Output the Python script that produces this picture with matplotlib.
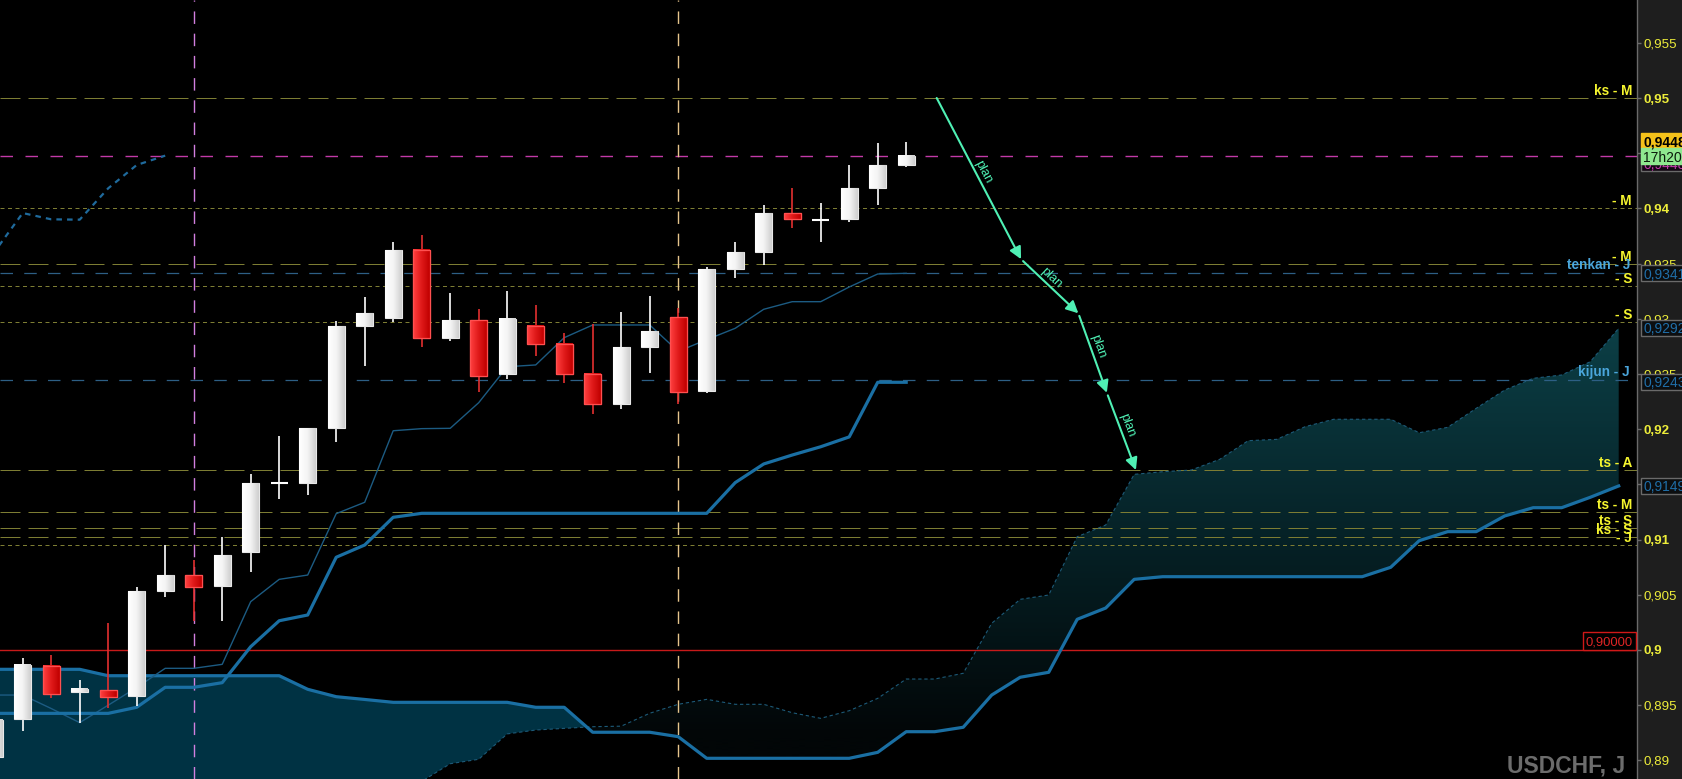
import math
import numpy as np
import matplotlib
matplotlib.use("Agg")
import matplotlib.pyplot as plt
from matplotlib.patches import Rectangle
from matplotlib.path import Path
from matplotlib.colors import LinearSegmentedColormap

plt.rcParams['font.family'] = ['Liberation Sans', 'DejaVu Sans']

# ---------------- data ----------------
candle_idx = list(range(-1, 32))
opens = [0.8903, 0.89372, 0.89855, 0.8962, 0.89638, 0.89586, 0.90537, 0.90679, 0.9058, 0.9089,
         0.9151, 0.91516, 0.92014, 0.92938, 0.9301, 0.93623, 0.92829, 0.92989, 0.92497, 0.92935,
         0.92769, 0.925, 0.92231, 0.92747, 0.93016, 0.92349, 0.93454, 0.93608, 0.93955, 0.93898,
         0.93907, 0.94188, 0.94396]
highs = [0.8942, 0.89928, 0.89955, 0.89728, 0.90242, 0.90574, 0.90951, 0.90815, 0.9102, 0.91594,
         0.91938, 0.9201, 0.9298, 0.93195, 0.93693, 0.93759, 0.93231, 0.93089, 0.93255, 0.93125,
         0.92868, 0.92953, 0.93059, 0.93207, 0.931, 0.93472, 0.93696, 0.9403, 0.94182, 0.94049,
         0.94393, 0.9459, 0.94601]
lows = [0.8896, 0.89269, 0.89568, 0.89341, 0.89472, 0.89493, 0.90483, 0.90265, 0.90265, 0.90709,
        0.91365, 0.91401, 0.91887, 0.92575, 0.92974, 0.92747, 0.92802, 0.9234, 0.92455, 0.92666,
        0.92421, 0.92135, 0.92183, 0.92512, 0.92225, 0.92325, 0.93372, 0.93487, 0.93825, 0.93698,
        0.9388, 0.9403, 0.94378]
closes = [0.8937, 0.89864, 0.89599, 0.8965, 0.89577, 0.90534, 0.90679, 0.90573, 0.9086, 0.9151,
          0.9151, 0.92008, 0.92935, 0.93049, 0.93623, 0.92823, 0.92989, 0.92485, 0.92998, 0.92769,
          0.92497, 0.92225, 0.92745, 0.92889, 0.9234, 0.93451, 0.93603, 0.93958, 0.93901, 0.93898,
          0.94182, 0.94393, 0.94478]

tenkan = [0.89592, 0.89592, 0.8947, 0.89342, 0.8950, 0.8966, 0.89834, 0.89834, 0.8987, 0.90438,
          0.9064, 0.90679, 0.91235, 0.91338, 0.91986, 0.92005, 0.92008, 0.9224, 0.92566, 0.92582,
          0.92829, 0.92944, 0.92944, 0.92944, 0.92705, 0.92811, 0.92914, 0.93086, 0.93155, 0.93155,
          0.93288, 0.93406, 0.93412]
kijun = [0.89426, 0.89426, 0.89426, 0.89426, 0.89426, 0.89481, 0.89662, 0.89662, 0.89704, 0.9003,
         0.90265, 0.90317, 0.9084, 0.90951, 0.91202, 0.91238, 0.91238, 0.91238, 0.91238, 0.91238,
         0.91238, 0.91238, 0.91238, 0.91238, 0.91238, 0.91238, 0.91516, 0.91685, 0.91766, 0.91841,
         0.9193, 0.92425, 0.92425]

cloud_idx = list(range(-1, 57))
senkou_a = [0.8868, 0.8868, 0.8868, 0.8868, 0.8869, 0.8869, 0.8870, 0.8870, 0.8871, 0.8871,
            0.8872, 0.8873, 0.8874, 0.8876, 0.8878, 0.8881, 0.8897, 0.8901, 0.8924, 0.89275,
            0.8929, 0.89305, 0.8931, 0.89427, 0.89508, 0.89553, 0.89508, 0.89508, 0.89432, 0.89381,
            0.8945, 0.89562, 0.89737, 0.89737, 0.89789, 0.90242, 0.90459, 0.90498, 0.91026, 0.91132,
            0.91591, 0.91615, 0.9163, 0.91727, 0.91896, 0.91908, 0.92023, 0.9209, 0.9209, 0.9209,
            0.91968, 0.92017, 0.92189, 0.92355, 0.92461, 0.92491, 0.92611, 0.92914]
senkou_b = [0.89825, 0.89825, 0.89825, 0.89825, 0.89767, 0.89767, 0.89767, 0.89767, 0.89767, 0.89767,
            0.89767, 0.89644, 0.89577, 0.89552, 0.89526, 0.89526, 0.89526, 0.89526, 0.89526, 0.89481,
            0.89481, 0.89255, 0.89255, 0.89255, 0.89215, 0.89019, 0.89019, 0.89019, 0.89019, 0.89019,
            0.89019, 0.89073, 0.8926, 0.8926, 0.893, 0.89592, 0.89753, 0.89798, 0.90278, 0.9038,
            0.9064, 0.90664, 0.90664, 0.90664, 0.90664, 0.90664, 0.90664, 0.90664, 0.90664, 0.90749,
            0.9099, 0.91072, 0.91072, 0.91214, 0.91289, 0.91289, 0.91383, 0.91486]

chikou_shift = 26

plan_x = [32.07, 35.03, 37.04, 38.04, 39.06]
plan_y = [0.9500, 0.9354, 0.9305, 0.9233, 0.9163]
plan_labels = ["plan", "plan", "plan", "plan"]

level_values = [0.95, 0.94, 0.935, 0.93297, 0.92968, 0.9163, 0.91247, 0.91105, 0.9102, 0.90948]
level_labels = ["ks - M", "- M", "- M", "- S", "- S", "ts - A", "ts - M", "ts - S", "ks - S", "- J"]
level_kinds = ["long", "short", "long", "short", "short", "long", "long", "long", "long", "short"]

ichi_values = [0.93412, 0.92443]
ichi_labels = ["tenkan - J", "kijun - J"]

current_price = 0.94478
round_level = 0.90
vline_idx = [6, 23]

ytick_values = [0.89, 0.895, 0.9, 0.905, 0.91, 0.915, 0.92, 0.925, 0.93, 0.935, 0.94, 0.945, 0.95, 0.955]
bold_ticks = [0.9, 0.91, 0.92, 0.94, 0.95]

axis_boxes = [("0,93412", 0.93412), ("0,92920", 0.9292), ("0,92430", 0.9243), ("0,91490", 0.9149)]
price_label = "0,94480"
timer_label = "17h20m"
round_label = "0,90000"
symbol_label = "USDCHF, J"

# ---------------- figure ----------------
W, H = 1683, 779
fig = plt.figure(figsize=(W / 100, H / 100), dpi=100, facecolor="#1e1e1e")
AXW = 1637
ax = fig.add_axes([0, 0, AXW / W, 1], facecolor="black")
XL = (-0.7965, 56.642)
YL = (0.888315, 0.958877)

ci = np.array(candle_idx)
o = np.array(opens); h = np.array(highs); l = np.array(lows); c = np.array(closes)
cx = np.array(cloud_idx)
sa = np.array(senkou_a); sb = np.array(senkou_b)

# cloud: bearish part (B above A)
ax.fill_between(cx, sa, sb, where=sb >= sa, interpolate=True, facecolor="#003243", lw=0, zorder=1)
# bullish part (A above B) with vertical gradient
poly = ax.fill_between(cx, sa, sb, where=sa >= sb, interpolate=True, facecolor="none", lw=0, zorder=1)
grad_cmap = LinearSegmentedColormap.from_list("g", ["#020607", "#062328", "#0c4047"])
yy = np.linspace(YL[0], YL[1], 400).reshape(-1, 1)
im = ax.imshow(yy, extent=[XL[0], XL[1], YL[0], YL[1]], origin="lower", aspect="auto",
               cmap=grad_cmap, vmin=0.892, vmax=0.93, zorder=1, interpolation="bilinear")
paths = poly.get_paths()
if paths:
    im.set_clip_path(Path.make_compound_path(*paths), transform=ax.transData)

# horizontal level lines
olive = "#7d7d33"
for v, kind in zip(level_values, level_kinds):
    ls = (0, (20, 8)) if kind == "long" else (0, (4, 3.5))
    ax.axhline(v, color=olive, lw=0.72, ls=ls, zorder=1.5)
for v in ichi_values:
    ax.axhline(v, color="#2d5f85", lw=0.9, ls=(0, (10, 9)), zorder=1.5)
ax.axhline(current_price, color="#c23aa8", lw=1.0, ls=(0, (9, 9)), zorder=1.5)
ax.axhline(round_level, color="#c81a1a", lw=1.0, zorder=1.6)

# vertical dashed separators
ax.axvline(vline_idx[0], color="#d27fe0", lw=1.0, ls=(0, (9, 7)), zorder=1.5)
ax.axvline(vline_idx[1], color="#e6c58c", lw=1.0, ls=(0, (9, 7)), zorder=1.5)

# ichimoku lines
ax.plot(cx, sa, color="#1d5a78", lw=0.8, ls=(0, (3, 2.5)), zorder=2)
ax.plot(cx, sb, color="#1a6fa3", lw=2.3, zorder=2, solid_joinstyle="round")
ax.plot(ci, tenkan, color="#1c5b82", lw=1.0, zorder=2)
ax.plot(ci, kijun, color="#1a6fa3", lw=2.3, zorder=2, solid_joinstyle="round")
chik_sel = ci >= ci.min() + chikou_shift
ax.plot(ci[chik_sel] - chikou_shift, c[chik_sel], color="#1f6a9c", lw=1.6,
        ls=(0, (2.5, 2.3)), zorder=2)

# candles
bw = 0.585
white_cmap = LinearSegmentedColormap.from_list("w", ["#ffffff", "#f4f4f4", "#cfcfcf"])
red_cmap = LinearSegmentedColormap.from_list("r", ["#ff4040", "#e01a1a", "#c00000"])
grad_x = np.linspace(0, 1, 32).reshape(1, -1)
for xi, oo, hh, ll, cc in zip(ci, o, h, l, c):
    bull = cc >= oo
    wick_col = "#ffffff" if bull else "#e23030"
    ax.plot([xi, xi], [ll, hh], color=wick_col, lw=1.2, zorder=3, solid_capstyle="butt")
    lo_, hi_ = min(oo, cc), max(oo, cc)
    if hi_ - lo_ < 1e-9:
        ax.plot([xi - bw / 2, xi + bw / 2], [lo_, lo_], color="#ffffff", lw=1.5, zorder=4,
                solid_capstyle="butt")
        continue
    ax.bar(xi, hi_ - lo_, bottom=lo_, width=bw,
           color="#e8e8e8" if bull else "#e01a1a",
           edgecolor="#e8e8e8" if bull else "#ff5050", lw=0.8, zorder=4)
    ax.imshow(grad_x, extent=[xi - bw / 2, xi + bw / 2, lo_, hi_], aspect="auto",
              cmap=white_cmap if bull else red_cmap, zorder=4.2, interpolation="bilinear")
    if not bull:
        ax.bar(xi, hi_ - lo_, bottom=lo_, width=bw, facecolor="none", edgecolor="#ff5050",
               lw=0.9, zorder=4.4)

ax.set_xlim(*XL)
ax.set_ylim(*YL)

# plan arrows
plan_col = "#4ff0b4"
for i in range(len(plan_x) - 1):
    ax.annotate("", xy=(plan_x[i + 1], plan_y[i + 1]), xytext=(plan_x[i], plan_y[i]),
                arrowprops=dict(arrowstyle="-|>", color=plan_col, lw=1.5, mutation_scale=18,
                                shrinkA=2 if i > 0 else 0, shrinkB=0),
                zorder=6)
    p0 = ax.transData.transform((plan_x[i], plan_y[i]))
    p1 = ax.transData.transform((plan_x[i + 1], plan_y[i + 1]))
    ang = math.degrees(math.atan2(p1[1] - p0[1], p1[0] - p0[0]))
    a = math.radians(ang)
    nx, ny = -math.sin(a), math.cos(a)
    dx, dy = math.cos(a), math.sin(a)
    off = 0.8
    along = -3.0
    mx = (plan_x[i] + plan_x[i + 1]) / 2
    my = (plan_y[i] + plan_y[i + 1]) / 2
    ax.annotate(plan_labels[i], xy=(mx, my), xytext=(nx * off + dx * along, ny * off + dy * along),
                textcoords="offset points", rotation=ang, rotation_mode="anchor",
                ha="center", va="bottom", fontsize=9.3, color=plan_col, zorder=6)

# level labels
ylab = "#f5f52e"
for v, lab in zip(level_values, level_labels):
    ax.annotate(lab, xy=(1632 / AXW, v), xycoords=("axes fraction", "data"), xytext=(0, 2.2),
                textcoords="offset points", ha="right", va="baseline", fontsize=9.8,
                fontweight="bold", color=ylab, zorder=7)
for v, lab in zip(ichi_values, ichi_labels):
    ax.annotate(lab, xy=(1630 / AXW, v), xycoords=("axes fraction", "data"), xytext=(0, 3.2),
                textcoords="offset points", ha="right", va="baseline", fontsize=9.8,
                fontweight="bold", color="#4aa6dc", zorder=7)

# axis styling
for s in ["top", "left", "bottom"]:
    ax.spines[s].set_visible(False)
ax.spines["right"].set_color("#6a6a6a")
ax.spines["right"].set_linewidth(1.0)
ax.set_xticks([])
ax.yaxis.tick_right()
ax.set_yticks(ytick_values)
ax.set_yticklabels([("%g" % v).replace(".", ",") for v in ytick_values])
ax.tick_params(axis="y", which="major", direction="out", length=3, width=1, color="#6a6a6a",
               labelcolor="#eded3a", labelsize=9.6, pad=2)
for t, v in zip(ax.yaxis.get_major_ticks(), ytick_values):
    if any(abs(v - b) < 1e-9 for b in bold_ticks):
        t.label2.set_fontweight("bold")

# boxes at the price axis (figure pixel coordinates)
def py_of(p):
    return H - ax.transData.transform((0, p))[1]

def box(yc, hgt, text, fc, ec, tc, x0=1641, x1=W + 5, fs=9.8, weight="normal", z=5):
    r = Rectangle((x0 / W, 1 - (yc + hgt / 2) / H), (x1 - x0) / W, hgt / H, transform=fig.transFigure,
                  facecolor=fc, edgecolor=ec, lw=1.0, zorder=z, clip_on=False)
    fig.add_artist(r)
    fig.text((x0 + 2.5) / W, 1 - yc / H, text, ha="left", va="center_baseline", fontsize=fs,
             color=tc, fontweight=weight, zorder=z + 0.5)

for txt, v in axis_boxes:
    box(py_of(v), 16, txt, "#0c0e10", "#6a6a6a", "#1f6ea8", fs=10)

ycur = py_of(current_price)
box(ycur + 7.5, 16, price_label, "#120812", "#6a6a6a", "#c03aa8", fs=10, z=5)
box(ycur - 15, 15, price_label, "#f5c21a", "#f5c21a", "#000000", fs=10, weight="bold", z=6)
box(ycur + 0.5, 15.5, timer_label, "#8fe88f", "#8fe88f", "#0a1a0a", fs=10, z=6)

# red round-number label inside the plot
yr = py_of(round_level)
rr = Rectangle((1583 / W, 1 - yr / H), (1636 - 1583) / W, 18 / H, transform=fig.transFigure,
               facecolor="black", edgecolor="#d01818", lw=1.0, zorder=5)
fig.add_artist(rr)
fig.text((1583 + 1636) / 2 / W, 1 - (yr - 9) / H, round_label, ha="center", va="center_baseline",
         fontsize=9.4, color="#e02424", zorder=5.5)

fig.text(1625 / W, 1 - 766 / H, symbol_label, ha="right", va="center", fontsize=16.5,
         fontweight="bold", color="#6c6c6c", zorder=5)

fig.savefig("out.png", dpi=100, facecolor=fig.get_facecolor())
